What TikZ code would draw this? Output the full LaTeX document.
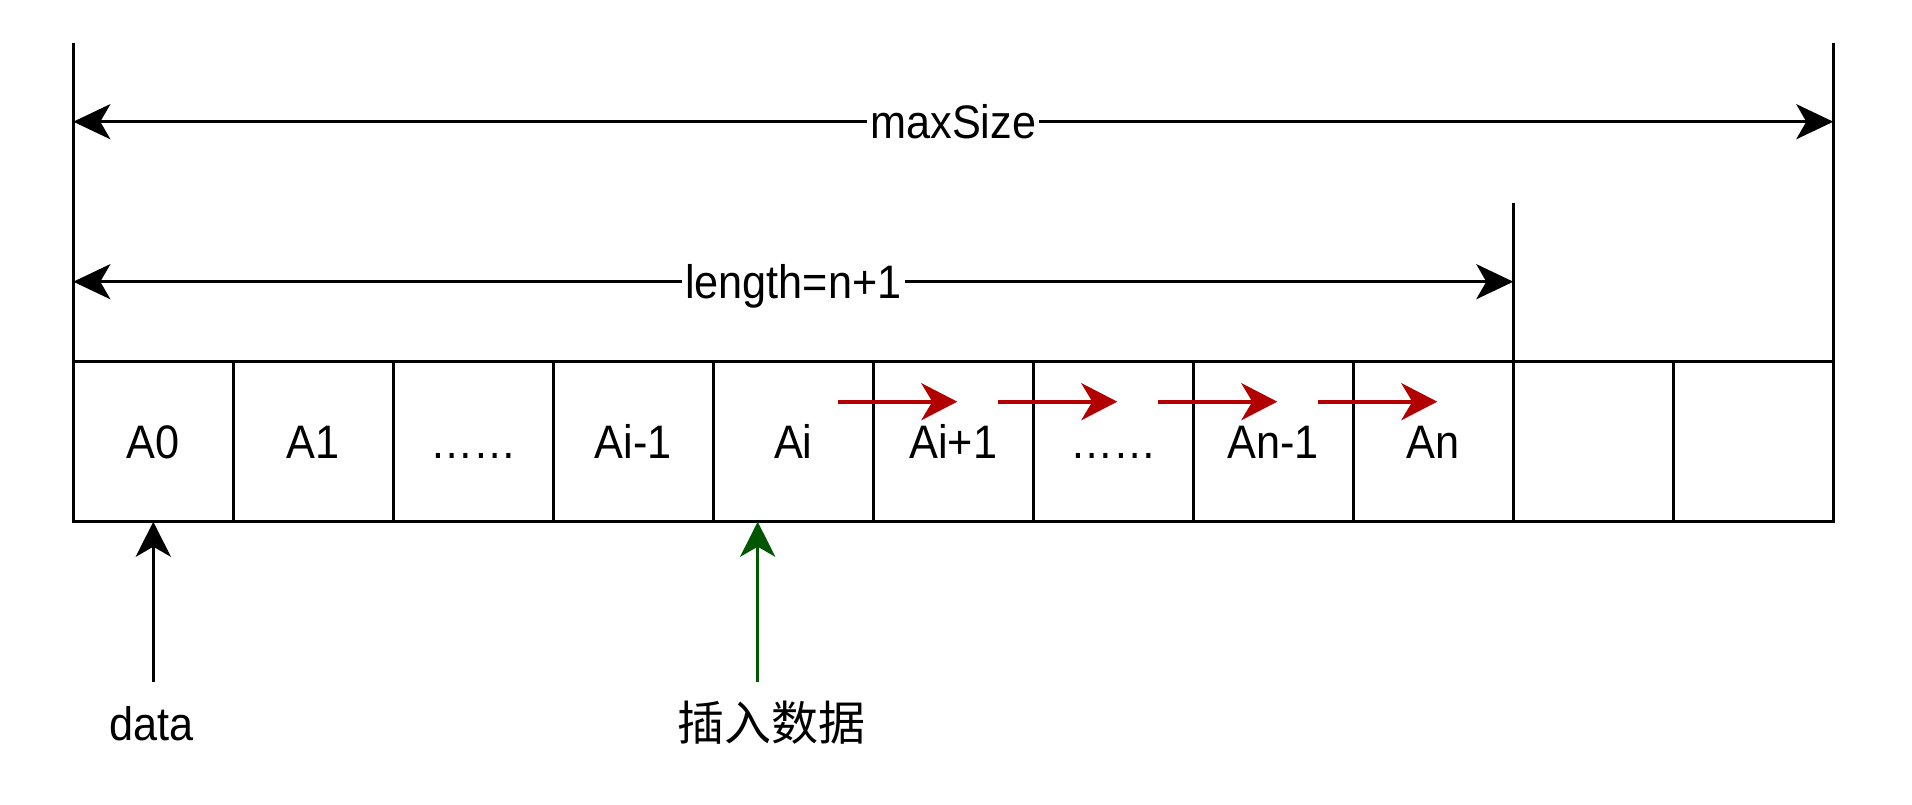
\documentclass[tikz,border=0pt]{standalone}
\usepackage{fontspec}
\setmainfont[FakeStretch=0.92]{Liberation Sans}
\newfontfamily\cjk{Noto Sans CJK SC}
\usetikzlibrary{arrows.meta}
\definecolor{arrred}{HTML}{B20000}
\definecolor{arrgreen}{HTML}{005700}
\begin{document}
\begin{tikzpicture}[x=1pt,y=-1pt,
  font=\fontsize{47}{56}\selectfont,
  cell/.style={draw=black, line width=3.3pt, minimum width=160pt, minimum height=160pt,
    inner sep=0pt, outer sep=0pt, text height=33.6pt, text depth=0pt},
  guide/.style={draw=black, line width=3.3pt},
  dimarrow/.style={line width=3.3pt, {Stealth[length=37pt,width=35pt,inset=10pt]}-{Stealth[length=37pt,width=35pt,inset=10pt]}},
  dimlabel/.style={fill=white, inner xsep=3pt, inner ysep=2pt, text height=33.6pt, text depth=0pt},
  shiftarrow/.style={draw=arrred, line width=4pt, -{Stealth[length=36pt,width=37pt,inset=11pt]}},
  uparrow/.style={line width=3.3pt, -{Stealth[length=35pt,width=35pt,inset=10pt]}},
  caption/.style={anchor=base, inner sep=0pt}
]
\useasboundingbox (0,0) rectangle (1912,804);

% cells
\node[cell] (c0) at (153.3,441.7) {A0};
\node[cell] (c1) at (313.3,441.7) {A1};
\node[cell] (c2) at (473.3,441.7) {……};
\node[cell] (c3) at (633.3,441.7) {Ai-1};
\node[cell] (c4) at (793.3,441.7) {Ai};
\node[cell] (c5) at (953.3,441.7) {Ai+1};
\node[cell] (c6) at (1113.3,441.7) {……};
\node[cell] (c7) at (1273.3,441.7) {An-1};
\node[cell] (c8) at (1433.3,441.7) {An};
\node[cell] (c9) at (1593.3,441.7) {};
\node[cell] (c10) at (1753.3,441.7) {};

% extension lines
\coordinate (tl) at (73.3,42.7);
\coordinate (tr) at (1833.3,42.7);
\coordinate (tm) at (1513.3,202.7);
\draw[guide] (tl) -- (c0.south west);
\draw[guide] (tr) -- (c10.south east);
\draw[guide] (tm) -- (c8.south east);

% dimension arrows
\coordinate (ml) at (73.3,121.7);
\coordinate (mr) at (1833.3,121.7);
\coordinate (ll) at (73.3,281.7);
\coordinate (lr) at (1513.3,281.7);
\draw[dimarrow] (ml) -- node[dimlabel] (maxlbl) {maxSize} (mr);
\draw[dimarrow] (ll) -- node[dimlabel] (lenlbl) {length=n+1} (lr);

% red shift arrows
\draw[shiftarrow] ([xshift=45pt,yshift=40pt]c4.center) -- ([xshift=4pt,yshift=40pt]c5.center);
\draw[shiftarrow] ([xshift=45pt,yshift=40pt]c5.center) -- ([xshift=4pt,yshift=40pt]c6.center);
\draw[shiftarrow] ([xshift=45pt,yshift=40pt]c6.center) -- ([xshift=4pt,yshift=40pt]c7.center);
\draw[shiftarrow] ([xshift=45pt,yshift=40pt]c7.center) -- ([xshift=4pt,yshift=40pt]c8.center);

% bottom pointers
\coordinate (dstart) at (153.3,681.7);
\coordinate (istart) at (757.7,681.7);
\draw[uparrow, draw=black, fill=black] (dstart) -- (c0.south);
\draw[uparrow, draw=arrgreen, fill=arrgreen] (istart) -- ([xshift=44.4pt]c4.south west);

\node[caption] (datalbl) at (151.7,740) {data};
\node[caption] (inslbl) at (771.7,740) {\cjk 插入数据};
\end{tikzpicture}
\end{document}
